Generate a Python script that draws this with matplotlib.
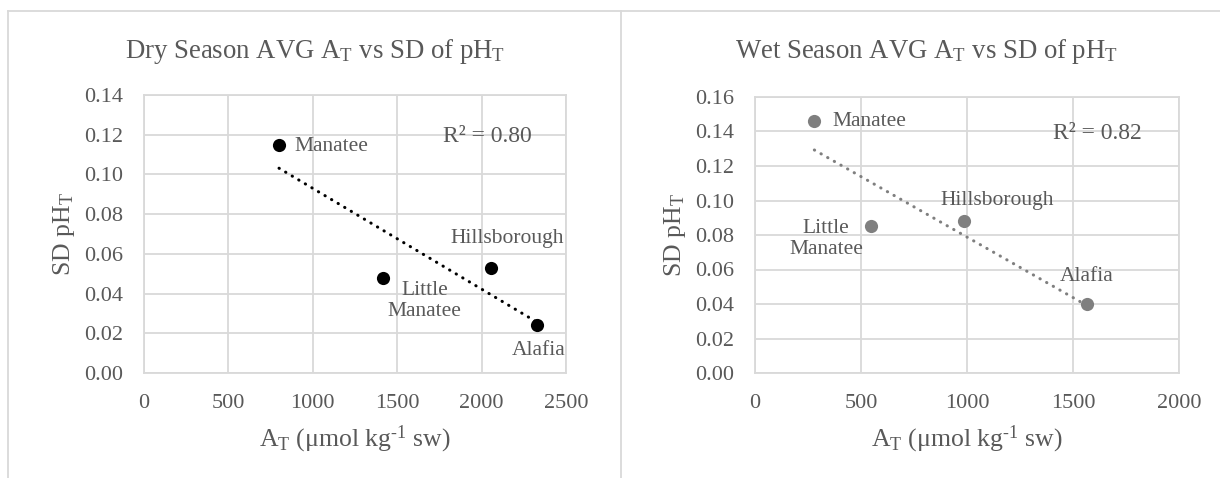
import numpy as np
import matplotlib
matplotlib.use('Agg')
import matplotlib.pyplot as plt
from matplotlib.lines import Line2D

plt.rcParams['font.family'] = ['Liberation Serif', 'DejaVu Serif']
plt.rcParams['mathtext.fontset'] = 'custom'
plt.rcParams['mathtext.rm'] = 'Liberation Serif'
plt.rcParams['mathtext.it'] = 'Liberation Serif:italic'

# dry season data
dry_sites = ['Manatee', 'Little\nManatee', 'Hillsborough', 'Alafia']
dry_at = [800, 1415, 2055, 2330]
dry_sd = [0.115, 0.048, 0.053, 0.024]

# wet season data
wet_sites = ['Manatee', 'Little\nManatee', 'Hillsborough', 'Alafia']
wet_at = [280, 545, 985, 1565]
wet_sd = [0.146, 0.085, 0.088, 0.040]

txt = '#595959'
grid = '#d9d9d9'

fig = plt.figure(figsize=(12.2, 4.78), dpi=100)
W, H = 1220, 478

# chart area borders (excel style)
fig.add_artist(Line2D([8/W, 8/W], [0, 1-11/H], color=grid, lw=1.3))
fig.add_artist(Line2D([8/W, 1], [1-11/H, 1-11/H], color=grid, lw=1.3))
fig.add_artist(Line2D([621/W, 621/W], [0, 1-11/H], color=grid, lw=1.3))


def panel(rect, x, y, sites, col, xmax, ymax, title, tx, r2, r2pos, offs):
    ax = fig.add_axes(rect)
    ax.scatter(x, y, s=90, color=col, zorder=3, linewidths=0)
    # linear trendline
    k, b = np.polyfit(x, y, 1)
    xs = np.array([min(x), max(x)])
    ax.plot(xs, k*xs + b, color=col, lw=2.2, linestyle=(0, (0.1, 2.4)),
            dash_capstyle='round', zorder=2)
    for xi, yi, s, o in zip(x, y, sites, offs):
        ax.annotate(s, (xi, yi), xytext=o[:2], textcoords='offset points',
                    ha=o[2] if len(o) > 2 else 'center', va='center',
                    fontsize=15.5, color=txt, linespacing=1.15)
    ax.text(r2pos[0], r2pos[1], r2, fontsize=17, color=txt, ha='center', va='center')
    ax.set_xlim(0, xmax)
    ax.set_ylim(0, ymax)
    ax.set_xticks(np.arange(0, xmax+1, 500))
    ax.set_yticks(np.arange(0, ymax+0.001, 0.02))
    ax.yaxis.set_major_formatter(matplotlib.ticker.FormatStrFormatter('%.2f'))
    ax.grid(True, color=grid, lw=1.3)
    ax.set_axisbelow(True)
    for sp in ax.spines.values():
        sp.set_color(grid)
        sp.set_linewidth(1.3)
    ax.tick_params(length=0, labelsize=16, labelcolor=txt)
    ax.tick_params(axis='x', pad=15)
    ax.tick_params(axis='y', pad=15)
    ax.set_xlabel(r'A$_\mathrm{T}$ ($\mathrm{\mu}$mol kg$^{\text{-1}}$ sw)', fontsize=18.5, color=txt, labelpad=8)
    ax.set_ylabel(r'SD pH$_\mathrm{T}$', fontsize=18.5, color=txt, labelpad=5)
    fig.text(tx/W, 1-58/H, title, fontsize=19.3, color=txt, ha='center', va='baseline')
    return ax


panel([144/W, 1-373/H, 422/W, 278/H], dry_at, dry_sd, dry_sites, 'black', 2500, 0.14,
      r'Dry Season AVG A$_\mathrm{T}$ vs SD of pH$_\mathrm{T}$', 315, 'R² = 0.80', (2036, 0.119),
      [(11, -1, 'left'), (30, -17), (12, 21), (1, -18)])

panel([755/W, 1-373/H, 424/W, 276/H], wet_at, wet_sd, wet_sites, '#7f7f7f', 2000, 0.16,
      r'Wet Season AVG A$_\mathrm{T}$ vs SD of pH$_\mathrm{T}$', 927, 'R² = 0.82', (1616, 0.1386),
      [(13, 0, 'left'), (-32, -9), (24, 15), (0, 20)])

fig.savefig('out.png', dpi=100)
